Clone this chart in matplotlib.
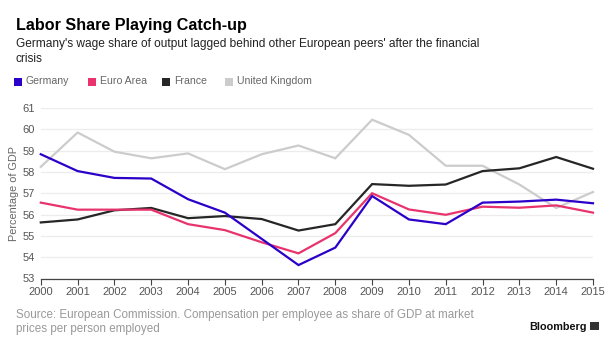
import matplotlib
matplotlib.use("Agg")
import matplotlib.pyplot as plt
from matplotlib import font_manager
from matplotlib.patches import Rectangle

years = list(range(2000, 2016))
germany = [58.83, 58.04, 57.72, 57.69, 56.72, 56.09, 54.86, 53.63, 54.45, 56.87, 55.77, 55.55, 56.56, 56.61, 56.70, 56.53]
euro_area = [56.56, 56.23, 56.23, 56.23, 55.55, 55.27, 54.70, 54.18, 55.13, 57.00, 56.24, 55.99, 56.37, 56.32, 56.43, 56.09]
france = [55.63, 55.77, 56.20, 56.31, 55.83, 55.93, 55.79, 55.25, 55.55, 57.43, 57.35, 57.41, 58.04, 58.17, 58.70, 58.15]
uk = [58.24, 59.85, 58.95, 58.64, 58.87, 58.13, 58.83, 59.24, 58.64, 60.45, 59.74, 58.29, 58.29, 57.41, 56.31, 57.06]
series_names = ["Germany", "Euro Area", "France", "United Kingdom"]
series_values = [germany, euro_area, france, uk]
colors = ["#2b00c9", "#e8336d", "#262626", "#cccccc"]
yticks = [53, 54, 55, 56, 57, 58, 59, 60, 61]

names = {f.name for f in font_manager.fontManager.ttflist}
base = "Liberation Sans" if "Liberation Sans" in names else "DejaVu Sans"
plt.rcParams['font.family'] = [base, 'DejaVu Sans']

W, H = 616, 346
fig = plt.figure(figsize=(W / 100, H / 100), dpi=100)
ax = fig.add_axes([40.8 / W, 1 - 278.5 / H, (593 - 40.8) / W, (278.5 - 108) / H])

for vals, c in zip(series_values[::-1], colors[::-1]):
    ax.plot(years, vals, color=c, lw=1.6, solid_joinstyle='miter', clip_on=False)

ax.set_xlim(2000, 2015)
ax.set_ylim(53, 61)
ax.set_xticks(years)
ax.set_xticklabels([str(y) for y in years])
ax.set_yticks(yticks)
ax.grid(axis='y', color='#ececec', lw=0.9)
ax.set_axisbelow(True)
for s in ['top', 'right', 'left']:
    ax.spines[s].set_visible(False)
ax.spines['bottom'].set_color('#444444')
ax.spines['bottom'].set_linewidth(0.9)
ax.tick_params(axis='x', direction='out', length=4, width=0.8, color='#444444',
               labelsize=8, labelcolor='#555555', pad=2)
ax.tick_params(axis='y', length=0, labelsize=8, labelcolor='#555555', pad=4)
ax.set_ylabel("Percentage of GDP", fontsize=7.8, color='#666666', labelpad=3)

fig.text(16 / W, 1 - 30 / H, "Labor Share Playing Catch-up",
         fontsize=11.6, fontweight='bold', color='#000000', va='baseline')
fig.text(16 / W, 1 - 47.3 / H, "Germany's wage share of output lagged behind other European peers' after the financial",
         fontsize=8.6, color='#222222', va='baseline')
fig.text(16 / W, 1 - 62.3 / H, "crisis", fontsize=8.6, color='#222222', va='baseline')

leg_x = [14, 88, 162, 225]
for x0, name, c in zip(leg_x, series_names, colors):
    fig.patches.append(Rectangle((x0 / W, 1 - 85.5 / H), 8 / W, 8 / H, transform=fig.transFigure,
                                 facecolor=c, edgecolor='none'))
    fig.text((x0 + 12) / W, 1 - 81.5 / H, name, fontsize=7.6, color='#666666', va='center')

fig.text(16 / W, 1 - 318.3 / H, "Source: European Commission. Compensation per employee as share of GDP at market",
         fontsize=8.4, color='#999999', va='baseline')
fig.text(16 / W, 1 - 331.7 / H, "prices per person employed", fontsize=8.4, color='#999999', va='baseline')
fig.text(587 / W, 1 - 330 / H, "Bloomberg", fontsize=7.8, fontweight='bold', color='#111111',
         va='baseline', ha='right')
fig.patches.append(Rectangle((590 / W, 1 - 330 / H), 9 / W, 8.5 / H, transform=fig.transFigure,
                             facecolor='#333333', edgecolor='none'))

fig.savefig("out.png", dpi=100, facecolor='white')
